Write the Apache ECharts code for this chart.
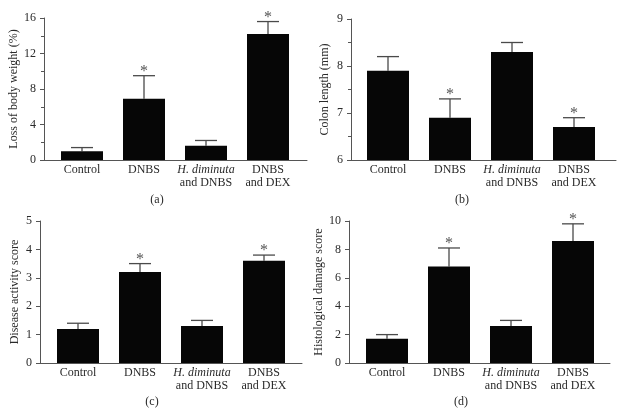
<!DOCTYPE html>
<html>
<head>
<meta charset="utf-8">
<script src="https://cdn.jsdelivr.net/npm/echarts@6/dist/echarts.min.js"></script>
<style>html,body{margin:0;padding:0;background:#fff}#c{width:634px;height:413px}</style>
</head>
<body>
<div id="c"></div>
<script>
const categories = ['Control', 'DNBS', 'H. diminuta\nand DNBS', 'DNBS\nand DEX'];
const significant = [0, 1, 0, 1];

const weightLoss = [1.0, 6.9, 1.6, 14.2];
const weightLossErr = [0.4, 2.6, 0.6, 1.4];

const colonLength = [7.9, 6.9, 8.3, 6.7];
const colonLengthErr = [0.3, 0.4, 0.2, 0.2];

const diseaseScore = [1.2, 3.2, 1.3, 3.6];
const diseaseScoreErr = [0.2, 0.3, 0.2, 0.2];

const histoScore = [1.7, 6.8, 2.6, 8.6];
const histoScoreErr = [0.3, 1.3, 0.4, 1.2];

const FONT = 'Liberation Serif';
const TXT = '#2a2a2a';
const AX = '#555';

const panels = [
  {name: 'Loss of body weight (%)', vals: weightLoss, errs: weightLossErr, min: 0, max: 16, interval: 4, minor: true,
   ax: {left: 44, top: 18, width: 263, height: 142}, barLeft: 51, nameGap: 23, tag: '(a)', tagX: 157, tagY: 200},
  {name: 'Colon length (mm)', vals: colonLength, errs: colonLengthErr, min: 6, max: 9, interval: 1, minor: true,
   ax: {left: 351, top: 19, width: 265, height: 141}, barLeft: 357, nameGap: 20, tag: '(b)', tagX: 462, tagY: 200},
  {name: 'Disease activity score', vals: diseaseScore, errs: diseaseScoreErr, min: 0, max: 5, interval: 1, minor: false,
   ax: {left: 40, top: 221, width: 262, height: 142}, barLeft: 47, nameGap: 19, tag: '(c)', tagX: 152, tagY: 402},
  {name: 'Histological damage score', vals: histoScore, errs: histoScoreErr, min: 0, max: 10, interval: 2, minor: false,
   ax: {left: 349, top: 221, width: 261, height: 142}, barLeft: 356, nameGap: 24, tag: '(d)', tagX: 461, tagY: 402}
];

const grid = [], xAxis = [], yAxis = [], series = [], graphic = [];

panels.forEach((p, k) => {
  const gA = grid.length;
  grid.push({left: p.ax.left, top: p.ax.top, width: p.ax.width, height: p.ax.height});
  grid.push({left: p.barLeft, top: p.ax.top, width: 248, height: p.ax.height});
  // axis-frame grid
  xAxis.push({gridIndex: gA, type: 'value', min: 0, max: 1, show: true,
    axisLine: {show: true, lineStyle: {color: AX, width: 1}}, axisTick: {show: false},
    axisLabel: {show: false}, splitLine: {show: false}});
  yAxis.push({gridIndex: gA, type: 'value', min: p.min, max: p.max, interval: p.interval,
    name: p.name, nameLocation: 'middle', nameGap: p.nameGap,
    nameTextStyle: {fontFamily: FONT, fontSize: 12, color: TXT},
    axisLine: {show: true, lineStyle: {color: AX, width: 1}},
    axisTick: {show: true, inside: false, length: 4, lineStyle: {color: AX}},
    minorTick: {show: p.minor, splitNumber: 2, length: 3, lineStyle: {color: AX}},
    axisLabel: {fontFamily: FONT, fontSize: 12, color: TXT, margin: 8},
    splitLine: {show: false}});
  // bar grid
  xAxis.push({gridIndex: gA + 1, type: 'category', data: categories,
    axisLine: {show: false}, axisTick: {show: false},
    axisLabel: {interval: 0, margin: 3, fontFamily: FONT, fontSize: 12, color: TXT, lineHeight: 13,
      formatter: v => v.startsWith('H. diminuta') ? '{i|H. diminuta}\nand DNBS' : v,
      rich: {i: {fontStyle: 'italic', fontFamily: FONT, fontSize: 12, color: TXT, lineHeight: 13}}}});
  yAxis.push({gridIndex: gA + 1, type: 'value', min: p.min, max: p.max, show: false, splitLine: {show: false}});
  series.push({type: 'bar', xAxisIndex: gA + 1, yAxisIndex: gA + 1, data: p.vals, barWidth: 42,
    itemStyle: {color: '#060606'}, clip: true, z: 3, silent: true});
  series.push({type: 'custom', xAxisIndex: gA + 1, yAxisIndex: gA + 1, z: 2, silent: true,
    data: p.vals.map((v, i) => [i, v, p.errs[i], significant[i]]),
    encode: {x: 0, y: 1},
    renderItem: (params, api) => {
      const i = api.value(0), v = api.value(1), e = api.value(2), s = api.value(3);
      const b = api.coord([i, v]);
      const t = api.coord([i, v + e]);
      const children = [
        {type: 'line', shape: {x1: b[0], y1: b[1], x2: t[0], y2: t[1]}, style: {stroke: '#4a4a4a', lineWidth: 1.3}},
        {type: 'line', shape: {x1: t[0] - 11, y1: t[1], x2: t[0] + 11, y2: t[1]}, style: {stroke: '#4a4a4a', lineWidth: 1.3}}
      ];
      if (s) children.push({type: 'text', x: t[0], y: t[1] - 4,
        style: {text: '*', fontFamily: FONT, fontSize: 16, fill: '#555', align: 'center', verticalAlign: 'middle'}});
      return {type: 'group', children};
    }});
  graphic.push({type: 'text', x: p.tagX, y: p.tagY,
    style: {text: p.tag, fontFamily: FONT, fontSize: 12, fill: TXT, align: 'center', verticalAlign: 'middle'}});
});

const chart = echarts.init(document.getElementById('c'), null, {renderer: 'canvas'});
chart.setOption({animation: false, backgroundColor: '#fff', grid, xAxis, yAxis, series, graphic});
</script>
</body>
</html>
